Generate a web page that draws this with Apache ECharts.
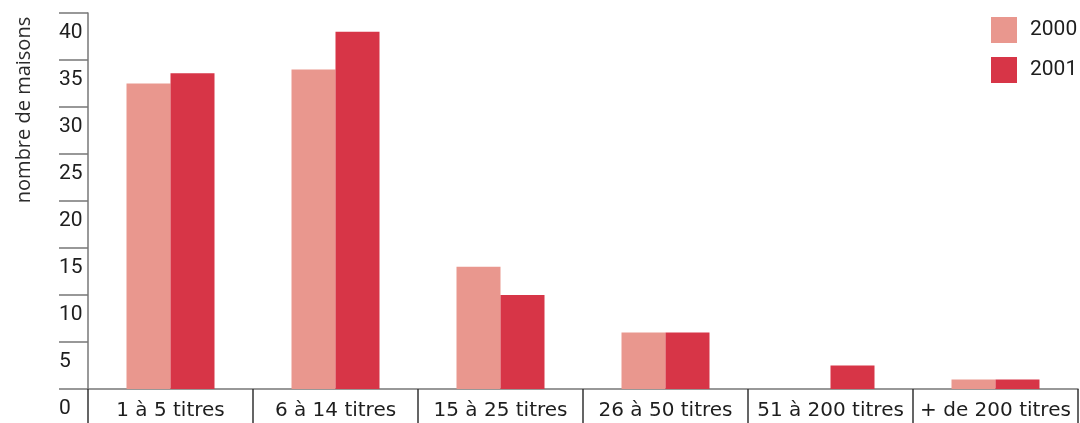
<!DOCTYPE html>
<html>
<head>
<meta charset="utf-8">
<script src="https://cdn.jsdelivr.net/npm/echarts@6/dist/echarts.min.js"></script>
<style>
    html, body { margin: 0; padding: 0; background: #fff; }
    #chart01 { width: 1080px; height: 423px; }
</style>
</head>
<body>
<div id="chart01"></div>
<script>
var categories = ['1 à 5 titres', '6 à 14 titres', '15 à 25 titres', '26 à 50 titres', '51 à 200 titres', '+ de 200 titres'];
var seriesNames = ['2000', '2001'];
var values2000 = [32.5, 34, 13, 6, 0, 1];
var values2001 = [33.6, 38, 10, 6, 2.5, 1];
var yTicks = { min: 0, max: 40, interval: 5 };

function chart01(id) {
    var myChart = echarts.init(document.getElementById(id));
    var option = {
        animation: false,
        grid: {
            left: 88,
            right: 2,
            top: 13,
            bottom: 34
        },
        legend: {
            left: 986,
            top: 12,
            orient: 'vertical',
            itemWidth: 26,
            itemHeight: 26,
            itemGap: 14,
            icon: 'rect',
            textStyle: {
                fontFamily: 'Roboto',
                fontSize: 21,
                color: '#1e1e1e',
                padding: [0, 0, 0, 8]
            },
            data: seriesNames
        },
        graphic: [
            {
                type: 'text',
                x: 24,
                y: 110,
                rotation: Math.PI / 2,
                style: {
                    text: 'nombre de maisons',
                    fontFamily: 'Open Sans',
                    fontSize: 20,
                    fill: '#2a2a2a',
                    align: 'center',
                    verticalAlign: 'middle'
                }
            }
        ],
        xAxis: {
            type: 'category',
            data: categories,
            axisLine: {
                show: true,
                lineStyle: { color: '#777777', width: 1.5 }
            },
            axisTick: {
                show: true,
                interval: 0,
                length: 34,
                lineStyle: { color: '#333333', width: 1.5 }
            },
            axisLabel: {
                interval: 0,
                fontFamily: 'DejaVu Sans',
                fontSize: 20,
                color: '#1e1e1e',
                margin: 12
            },
            splitLine: { show: false }
        },
        yAxis: {
            type: 'value',
            min: yTicks.min,
            max: yTicks.max,
            interval: yTicks.interval,
            axisLine: {
                show: true,
                lineStyle: { color: '#777777', width: 1.5 }
            },
            axisTick: {
                show: true,
                length: 29,
                lineStyle: { color: '#777777', width: 1.5 }
            },
            axisLabel: {
                align: 'left',
                verticalAlign: 'top',
                margin: 29,
                padding: [9, 0, 0, 0],
                fontFamily: 'Roboto',
                fontSize: 21,
                color: '#1e1e1e'
            },
            splitLine: { show: false }
        },
        series: [
            {
                name: seriesNames[0],
                type: 'bar',
                barWidth: 44,
                barGap: '0%',
                itemStyle: { color: '#e9978e' },
                data: values2000
            },
            {
                name: seriesNames[1],
                type: 'bar',
                barWidth: 44,
                barGap: '0%',
                itemStyle: { color: '#d73547' },
                data: values2001
            }
        ]
    };

    myChart.setOption(option);
    return myChart;
}

var chartInit01 = chart01('chart01');
window.addEventListener('resize', function () {
    chartInit01.resize();
});
</script>
</body>
</html>
